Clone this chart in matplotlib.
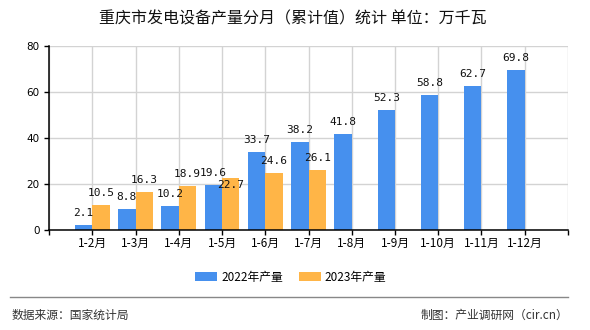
import numpy as np
import matplotlib
matplotlib.use("Agg")
import matplotlib.pyplot as plt

plt.rcParams['font.family'] = ['Noto Sans CJK SC', 'DejaVu Sans']

months = ['1-2月', '1-3月', '1-4月', '1-5月', '1-6月', '1-7月',
          '1-8月', '1-9月', '1-10月', '1-11月', '1-12月']
prod_2022 = [2.1, 8.8, 10.2, 19.6, 33.7, 38.2, 41.8, 52.3, 58.8, 62.7, 69.8]
prod_2023 = [10.5, 16.3, 18.9, 22.7, 24.6, 26.1]

blue = '#4690EE'
orange = '#FFB547'

fig = plt.figure(figsize=(5.9, 3.3), dpi=100)
ax = fig.add_axes([0.0831, 0.3045, 0.8796, 0.5552])

x = np.arange(1, len(months) + 1)
w = 0.4
bars22 = ax.bar(x - w / 2, prod_2022, width=w, color=blue, label='2022年产量', zorder=2)
bars23 = ax.bar(x[:len(prod_2023)] + w / 2, prod_2023, width=w, color=orange,
                label='2023年产量', zorder=2)

# value labels, 12px above bar top; the 1-5 2023 label sits a bit below the top
def put_labels(bars, vals, shifts=None):
    shifts = shifts or {}
    for i, (b, v) in enumerate(zip(bars, vals)):
        ax.annotate(f'{v}', (b.get_x() + b.get_width() / 2, v),
                    xytext=(0, shifts.get(i, 12)), textcoords='offset pixels',
                    ha='center', va='center', fontsize=8,
                    family='DejaVu Sans Mono', color='#111111', zorder=3)

put_labels(bars22, prod_2022)
put_labels(bars23, prod_2023, {3: -7})

ax.set_xlim(0, 12)
ax.set_ylim(0, 80)
ax.set_yticks([0, 20, 40, 60, 80])
ax.set_xticks(np.arange(0, 13))
ax.set_xticklabels([''] + months + [''])
ax.tick_params(axis='x', length=3.6, width=1, color='black', pad=1.5, labelsize=8.5)
ax.tick_params(axis='y', length=3.6, width=1, color='black', pad=3, labelsize=7.5)
for lab in ax.get_yticklabels():
    lab.set_family('DejaVu Sans')

ax.grid(True, color='#D3D3D3', linewidth=1)
ax.set_axisbelow(True)
for s in ['top', 'right']:
    ax.spines[s].set_visible(False)
for s in ['left', 'bottom']:
    ax.spines[s].set_color('black')
    ax.spines[s].set_linewidth(1.1)

fig.text(0.497, 0.944, '重庆市发电设备产量分月（累计值）统计 单位：万千瓦',
         ha='center', va='center', fontsize=11.5, color='#111111')

fig.legend(loc='center', bbox_to_anchor=(0.493, 0.16), ncol=2, frameon=False,
           fontsize=8.5, handlelength=1.86, handleheight=0.76,
           handletextpad=0.34, columnspacing=1.35)

fig.add_artist(plt.Line2D([0.017, 0.9627], [0.0985, 0.0985],
                          color='#888888', linewidth=1.0, transform=fig.transFigure))
fig.text(0.019, 0.0455, '数据来源：国家统计局', ha='left', va='center',
         fontsize=8.5, color='#333333')
fig.text(0.9627, 0.0455, '制图：产业调研网（cir.cn）', ha='right', va='center',
         fontsize=8.5, color='#333333')

fig.savefig('out.png', dpi=100)
